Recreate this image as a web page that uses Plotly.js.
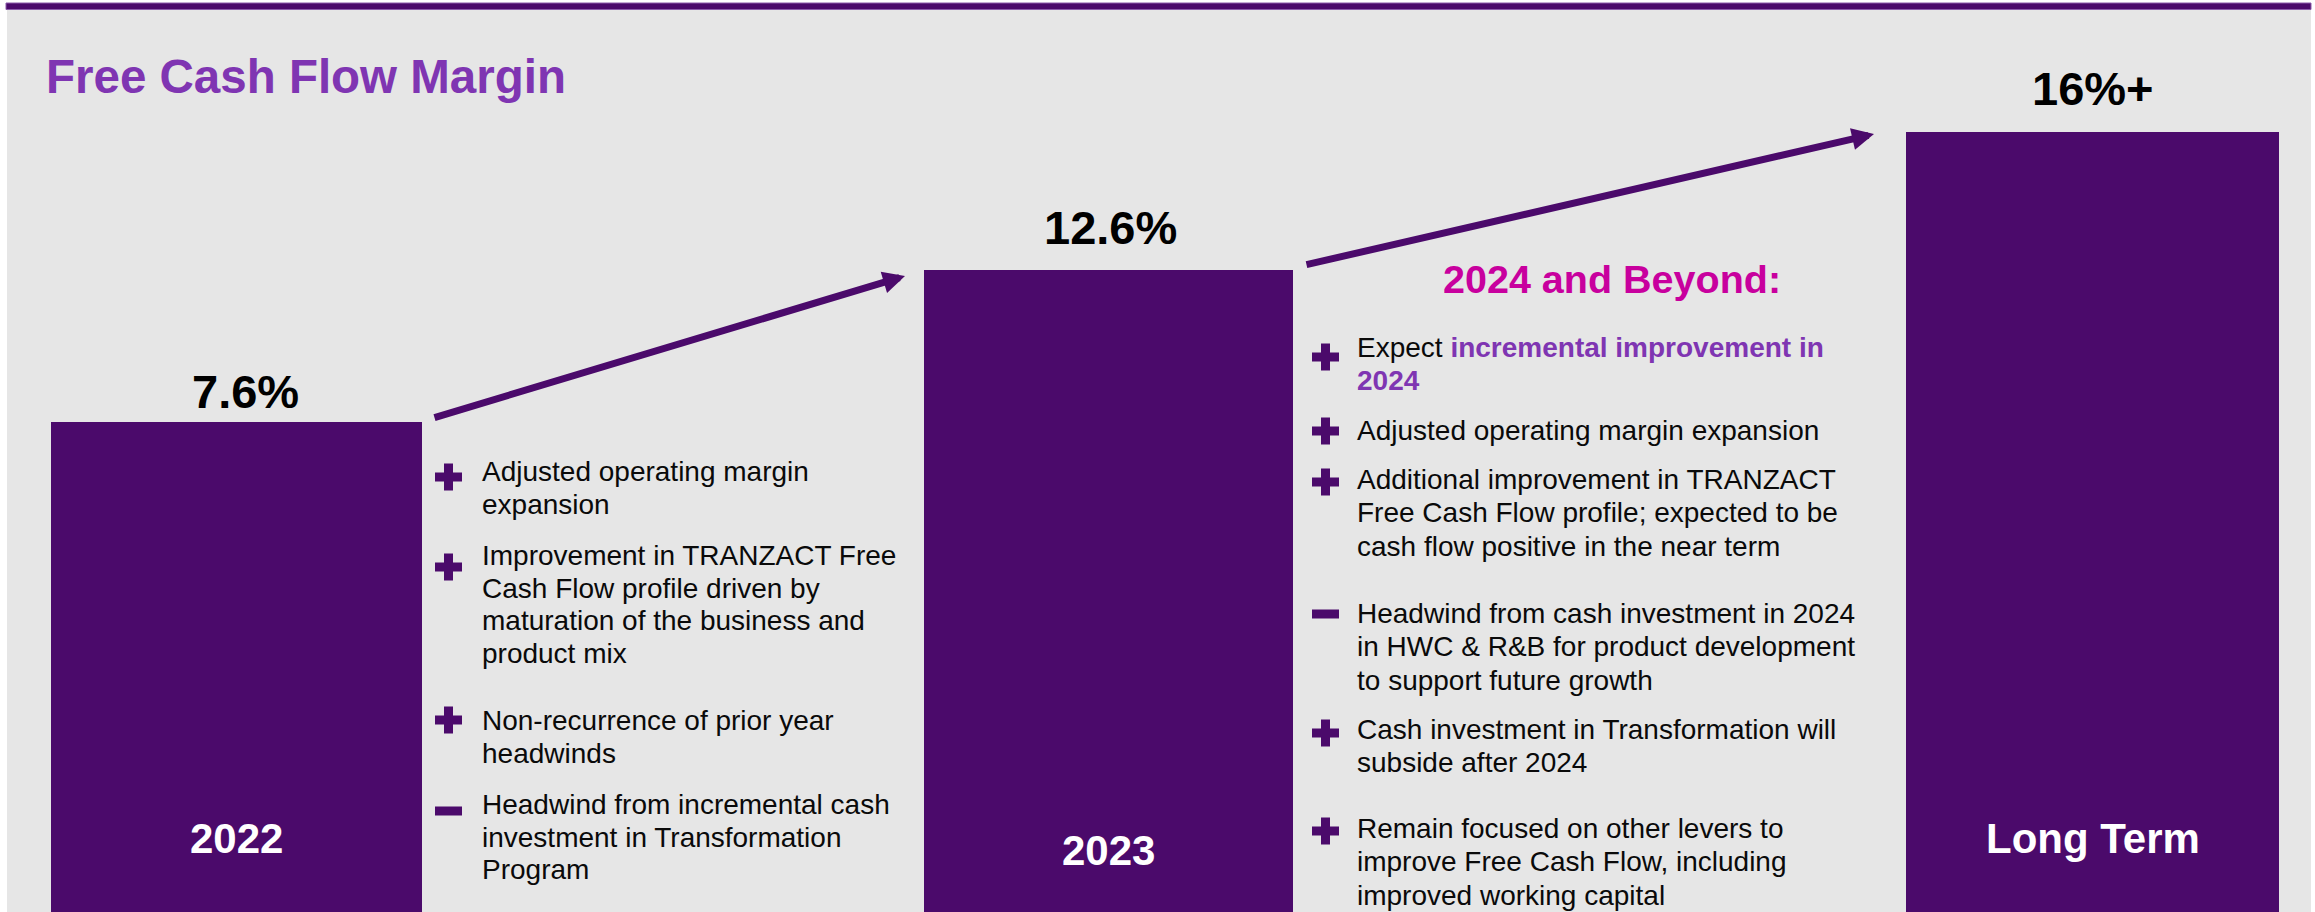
<!DOCTYPE html>
<html><head><meta charset="utf-8">
<script src="https://cdn.plot.ly/plotly-3.0.1.min.js"></script>
<style>html,body{margin:0;padding:0;background:#fff;overflow:hidden}#chart{width:2315px;height:912px}</style>
</head><body><div id="chart"></div>
<script>
// ---------------- data ----------------
const categories = ['2022', '2023', 'Long Term'];
const marginValues = [7.6, 12.6, 16];
const valueLabels = ['7.6%', '12.6%', '16%+'];
const chartTitle = 'Free Cash Flow Margin';
const outlookHeading = '2024 and Beyond:';

const drivers2023Signs = ['+', '+', '+', '-'];
const drivers2023Lines = [
  ['Adjusted operating margin', 'expansion'],
  ['Improvement in TRANZACT Free', 'Cash Flow profile driven by', 'maturation of the business and', 'product mix'],
  ['Non-recurrence of prior year', 'headwinds'],
  ['Headwind from incremental cash', 'investment in Transformation', 'Program']
];

const outlookSigns = ['+', '+', '+', '-', '+', '+'];
const outlookLines = [
  ['Expect incremental improvement in', '2024'],
  ['Adjusted operating margin expansion'],
  ['Additional improvement in TRANZACT', 'Free Cash Flow profile; expected to be', 'cash flow positive in the near term'],
  ['Headwind from cash investment in 2024', 'in HWC & R&B for product development', 'to support future growth'],
  ['Cash investment in Transformation will', 'subside after 2024'],
  ['Remain focused on other levers to', 'improve Free Cash Flow, including', 'improved working capital']
];
const outlookHighlights = ['incremental improvement in', '2024']; // emphasised phrase of the first outlook bullet

// ---------------- layout / style ----------------
const W = 2315, H = 912;
const px = x => x / W;
const py = y => 1 - y / H;
const FONT = 'Arial, "Liberation Sans", Helvetica, sans-serif';
const PURPLE = '#4B0A6B';
const TITLE_PURPLE = '#7F35B2';
const MAGENTA = '#C8009E';
const BG = '#E6E6E6';

const barDomains = [[51, 422], [924, 1293], [1906, 2279]];
const yRanges = [[0, 14.15], [0, 17.9], [0, 18.7]];
const labelShift = [[9, 3], [2, 15], [0, 16]];
const insideBaseline = [853, 865, 853];

const leftCol = {iconX: 448.5, textX: 482, baselines: [481, 565, 730, 814], icons: [477, 567, 720, 811], pitch: 32.8};
const rightCol = {iconX: 1325.5, textX: 1357, baselines: [357, 440, 489, 623, 739, 838], icons: [357, 431, 482, 614, 733, 831], pitch: 33.5};

function textAnn(x, baseline, text, size, opts) {
  return Object.assign({
    xref: 'paper', yref: 'paper', x: px(x), y: py(baseline - 0.3465 * size),
    xanchor: 'left', yanchor: 'middle', showarrow: false, text: text,
    borderpad: 0, borderwidth: 0,
    font: {family: FONT, size: size, color: '#0a0a0a'}
  }, opts || {});
}

const traces = [];
const annotations = [];
const shapes = [];

// background panel and top rule
shapes.push({type: 'rect', xref: 'paper', yref: 'paper', x0: px(7), x1: px(2311), y0: 0, y1: py(9),
  fillcolor: BG, line: {width: 0}, layer: 'below'});
shapes.push({type: 'rect', xref: 'paper', yref: 'paper', x0: px(6), x1: px(2311), y0: py(9.5), y1: py(3),
  fillcolor: PURPLE, line: {width: 1, color: '#8B5BAA'}, layer: 'above'});

const layout = {
  width: W, height: H,
  margin: {l: 0, r: 0, t: 0, b: 0, pad: 0},
  paper_bgcolor: '#FFFFFF',
  plot_bgcolor: 'rgba(0,0,0,0)',
  showlegend: false,
  hovermode: false,
  bargap: 0
};

categories.forEach((cat, i) => {
  const sfx = i === 0 ? '' : String(i + 1);
  traces.push({
    type: 'bar', x: [cat], y: [marginValues[i]], width: [1],
    xaxis: 'x' + sfx, yaxis: 'y' + sfx,
    marker: {color: PURPLE, line: {width: 0}},
    hoverinfo: 'skip'
  });
  layout['xaxis' + sfx] = {
    type: 'category', domain: [px(barDomains[i][0]), px(barDomains[i][1])],
    range: [-0.5, 0.5], visible: false, fixedrange: true, anchor: 'y' + sfx
  };
  layout['yaxis' + sfx] = {
    domain: [0, 1], range: yRanges[i], visible: false, fixedrange: true,
    showgrid: false, zeroline: false, anchor: 'x' + sfx
  };
  // value label above the bar (x given as category index: numeric-looking names would be read as indices)
  annotations.push({
    xref: 'x' + sfx, yref: 'y' + sfx, x: 0, y: marginValues[i],
    xanchor: 'center', yanchor: 'bottom', showarrow: false,
    xshift: labelShift[i][0], yshift: labelShift[i][1],
    text: '<b>' + valueLabels[i] + '</b>', borderpad: 0,
    font: {family: FONT, size: 47, color: '#000000'}
  });
  // category label inside the bar
  annotations.push({
    xref: 'x' + sfx, yref: 'paper', x: 0, y: py(insideBaseline[i] - 0.3465 * 42),
    xanchor: 'center', yanchor: 'middle', showarrow: false,
    text: '<b>' + cat + '</b>', borderpad: 0,
    font: {family: FONT, size: 42, color: '#FFFFFF'}
  });
});

// title & heading
annotations.push(textAnn(46, 93, '<b>' + chartTitle + '</b>', 47.5, {font: {family: FONT, size: 47.5, color: TITLE_PURPLE}}));
annotations.push(textAnn(1612, 293, '<b>' + outlookHeading + '</b>', 39.5,
  {xanchor: 'center', font: {family: FONT, size: 39.5, color: MAGENTA}}));

// arrows
annotations.push({xref: 'paper', yref: 'paper', x: px(905), y: py(276), axref: 'pixel', ayref: 'pixel',
  ax: -472, ay: 142, text: '', showarrow: true, arrowhead: 2, arrowsize: 0.63, arrowwidth: 7,
  arrowcolor: PURPLE, standoff: 0});
annotations.push({xref: 'paper', yref: 'paper', x: px(1874), y: py(134), axref: 'pixel', ayref: 'pixel',
  ax: -569, ay: 131, text: '', showarrow: true, arrowhead: 2, arrowsize: 0.63, arrowwidth: 7,
  arrowcolor: PURPLE, standoff: 0});

function signIcon(cx, cy, sign) {
  const L = 13.5, T = 4.5;
  shapes.push({type: 'rect', xref: 'paper', yref: 'paper', x0: px(cx - L), x1: px(cx + L), y0: py(cy + T), y1: py(cy - T),
    fillcolor: PURPLE, line: {width: 0}});
  if (sign === '+') {
    shapes.push({type: 'rect', xref: 'paper', yref: 'paper', x0: px(cx - T), x1: px(cx + T), y0: py(cy + L), y1: py(cy - L),
      fillcolor: PURPLE, line: {width: 0}});
  }
}

function emphasise(line) {
  let out = line;
  outlookHighlights.forEach(h => {
    if (out.indexOf(h) >= 0) {
      out = out.replace(h, '<b><span style="color:' + TITLE_PURPLE + '">' + h + '</span></b>');
    }
  });
  return out;
}

function bulletColumn(col, signs, lines, highlightFirst) {
  signs.forEach((s, i) => {
    signIcon(col.iconX, col.icons[i], s);
    lines[i].forEach((ln, j) => {
      const txt = (highlightFirst && i === 0) ? emphasise(ln.replace(/&/g, '&amp;')) : ln.replace(/&/g, '&amp;');
      annotations.push(textAnn(col.textX, col.baselines[i] + j * col.pitch, txt, 28));
    });
  });
}
bulletColumn(leftCol, drivers2023Signs, drivers2023Lines, false);
bulletColumn(rightCol, outlookSigns, outlookLines, true);

layout.annotations = annotations;
layout.shapes = shapes;

Plotly.newPlot('chart', traces, layout, {displayModeBar: false, staticPlot: true});
</script>
</body></html>
